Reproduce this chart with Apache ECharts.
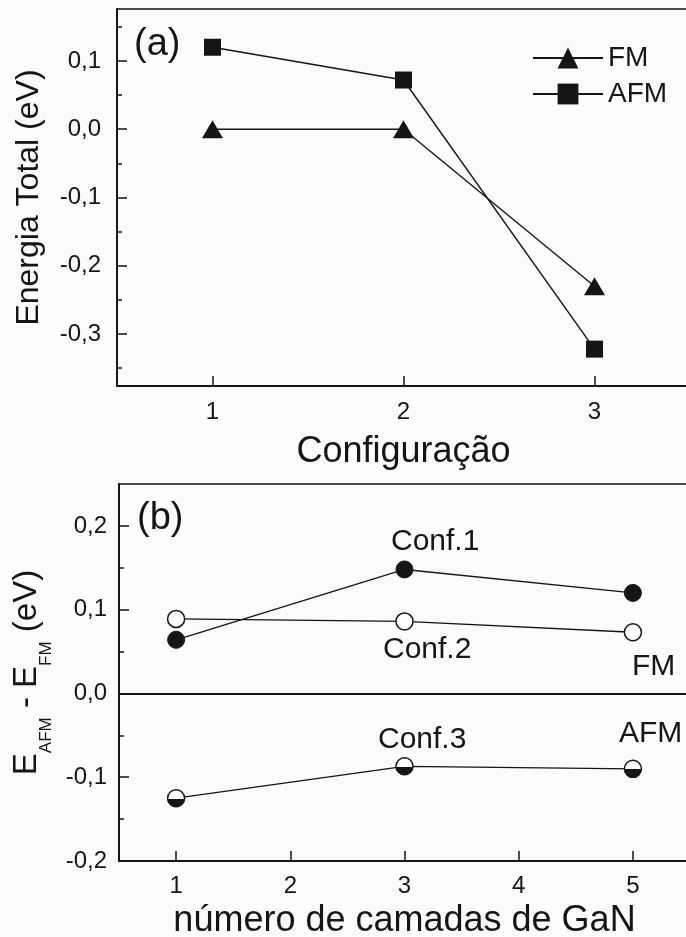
<!DOCTYPE html>
<html>
<head>
<meta charset="utf-8">
<script src="https://cdn.jsdelivr.net/npm/echarts@6/dist/echarts.min.js"></script>
<style>
  html, body { margin: 0; padding: 0; background: #fbfbfb; }
  #chart { width: 686px; height: 937px; }
</style>
</head>
<body>
<div id="chart"></div>
<script>
// (a) total energy for each configuration
const configs = [1, 2, 3];
const energyFM = [0.0, 0.0, -0.23];
const energyAFM = [0.12, 0.072, -0.322];
const configTicks = [1, 2, 3];
const energyTicks = [-0.3, -0.2, -0.1, 0.0, 0.1];
const energyMinorTicks = [-0.35, -0.25, -0.15, -0.05, 0.05, 0.15];

// (b) E_AFM - E_FM against the number of GaN layers
const layers = [1, 3, 5];
const diffConf1 = [0.064, 0.148, 0.120];
const diffConf2 = [0.089, 0.086, 0.073];
const diffConf3 = [-0.125, -0.087, -0.090];
const layerTicks = [1, 2, 3, 4, 5];
const diffTicks = [-0.2, -0.1, 0.0, 0.1, 0.2];
const diffMinorTicks = [-0.15, -0.05, 0.05, 0.15];

const FONT = '"Liberation Sans", Arial, Helvetica, sans-serif';
const INK = '#151515';

const pairs = (xs, ys) => xs.map((x, i) => [x, ys[i]]);
const comma = v => v.toFixed(1).replace('.', ',');

function valueX(grid, min, max, ticks) {
  return {
    type: 'value', gridIndex: grid, min: min, max: max,
    axisLine: { show: true, onZero: false, lineStyle: { color: INK, width: 2 } },
    axisTick: { show: true, inside: true, length: 10, customValues: ticks,
                lineStyle: { color: INK, width: 1.5 } },
    axisLabel: { customValues: ticks, formatter: v => String(v), margin: 14,
                 fontFamily: FONT, fontSize: 24, color: INK },
    splitLine: { show: false }
  };
}

function valueY(grid, min, max, ticks, margin) {
  return {
    type: 'value', gridIndex: grid, position: 'left', min: min, max: max,
    axisLine: { show: true, onZero: false, lineStyle: { color: INK, width: 2 } },
    axisTick: { show: true, inside: true, length: 10, customValues: ticks,
                lineStyle: { color: INK, width: 1.5 } },
    axisLabel: { customValues: ticks, formatter: comma, margin: margin,
                 fontFamily: FONT, fontSize: 24, color: INK },
    splitLine: { show: false }
  };
}

function minorY(grid, min, max, ticks) {
  return {
    type: 'value', gridIndex: grid, position: 'left', offset: 0, min: min, max: max,
    axisLine: { show: false, onZero: false },
    axisTick: { show: true, inside: true, length: 5, customValues: ticks,
                lineStyle: { color: INK, width: 1.5 } },
    axisLabel: { show: false },
    splitLine: { show: false }
  };
}

const yA = valueY(0, -0.376, 0.176, energyTicks, 16);
yA.name = 'Energia Total (eV)';
yA.nameLocation = 'middle';
yA.nameGap = 72;
yA.nameTextStyle = { fontFamily: FONT, fontSize: 32, color: INK };

const yB = valueY(1, -0.2, 0.25, diffTicks, 12);
yB.name = '{e|E}{s|AFM}{e| - E}{s|FM}{e| (eV)}';
yB.nameLocation = 'middle';
yB.nameGap = 57;
yB.nameTextStyle = {
  color: INK,
  rich: {
    e: { fontFamily: FONT, fontSize: 33, lineHeight: 40, color: INK },
    s: { fontFamily: FONT, fontSize: 17, lineHeight: 17, padding: [38, 0, 0, 0], color: INK }
  }
};

const xA = valueX(0, 0.5, 3.5, configTicks);
xA.axisLabel.margin = 14;
xA.name = 'Configuração';
xA.nameLocation = 'middle';
xA.nameGap = 48;
xA.nameTextStyle = { fontFamily: FONT, fontSize: 36, color: INK };

const xB = valueX(1, 0.5, 5.5, layerTicks);
xB.axisLabel.margin = 13;
xB.name = 'número de camadas de GaN';
xB.nameLocation = 'middle';
xB.nameGap = 42;
xB.nameTextStyle = { fontFamily: FONT, fontSize: 36, color: INK };

const lineStyle = { color: INK, width: 1.4 };
const halfFill = new echarts.graphic.LinearGradient(0, 0, 0, 1, [
  { offset: 0, color: '#ffffff' }, { offset: 0.52, color: '#ffffff' },
  { offset: 0.52, color: INK }, { offset: 1, color: INK }
]);

const option = {
  backgroundColor: '#fbfbfb',
  animation: false,
  color: [INK, INK],
  grid: [
    { left: 117, right: -4, top: 9, bottom: 551, show: true, outerBoundsMode: 'none',
      containLabel: false, borderColor: INK, borderWidth: 1.5, backgroundColor: 'transparent' },
    { left: 119, right: -4, top: 484, bottom: 76, show: true, outerBoundsMode: 'none',
      containLabel: false, borderColor: INK, borderWidth: 1.5, backgroundColor: 'transparent' }
  ],
  xAxis: [xA, xB],
  yAxis: [
    yA,
    minorY(0, -0.376, 0.176, energyMinorTicks),
    yB,
    minorY(1, -0.2, 0.25, diffMinorTicks)
  ],
  legend: {
    orient: 'vertical', left: 527, top: 39,
    itemWidth: 70, itemHeight: 26, itemGap: 8,
    textStyle: { fontFamily: FONT, fontSize: 28, color: INK },
    data: ['FM', 'AFM']
  },
  series: [
    { name: 'FM', type: 'line', xAxisIndex: 0, yAxisIndex: 0,
      data: pairs(configs, energyFM),
      symbol: 'triangle', symbolSize: [21, 18],
      itemStyle: { color: INK }, lineStyle: lineStyle, z: 3 },
    { name: 'AFM', type: 'line', xAxisIndex: 0, yAxisIndex: 0,
      data: pairs(configs, energyAFM),
      symbol: 'rect', symbolSize: 17,
      itemStyle: { color: INK }, lineStyle: lineStyle, z: 3 },
    { name: 'Conf.1', type: 'line', xAxisIndex: 1, yAxisIndex: 2,
      data: pairs(layers, diffConf1),
      symbol: 'circle', symbolSize: 17,
      itemStyle: { color: INK, borderColor: INK, borderWidth: 1 }, lineStyle: lineStyle, z: 3,
      markLine: {
        silent: true, symbol: 'none', label: { show: false },
        lineStyle: { color: INK, width: 1.8, type: 'solid' },
        data: [{ yAxis: 0 }]
      } },
    { name: 'Conf.2', type: 'line', xAxisIndex: 1, yAxisIndex: 2,
      data: pairs(layers, diffConf2),
      symbol: 'circle', symbolSize: 17,
      itemStyle: { color: '#ffffff', borderColor: INK, borderWidth: 1.5 }, lineStyle: lineStyle, z: 3 },
    { name: 'Conf.3', type: 'line', xAxisIndex: 1, yAxisIndex: 2,
      data: pairs(layers, diffConf3),
      symbol: 'circle', symbolSize: 17,
      itemStyle: { color: halfFill, borderColor: INK, borderWidth: 1.5 }, lineStyle: lineStyle, z: 3 }
  ],
  graphic: [
    { type: 'text', left: 134, top: 26, style: { text: '(a)', font: '38px ' + FONT, fill: INK } },
    { type: 'text', left: 137, top: 500, style: { text: '(b)', font: '38px ' + FONT, fill: INK } },
    { type: 'text', left: 391, top: 527, style: { text: 'Conf.1', font: '30px ' + FONT, fill: INK } },
    { type: 'text', left: 383, top: 635, style: { text: 'Conf.2', font: '30px ' + FONT, fill: INK } },
    { type: 'text', left: 378, top: 725, style: { text: 'Conf.3', font: '30px ' + FONT, fill: INK } },
    { type: 'text', left: 632, top: 652, style: { text: 'FM', font: '30px ' + FONT, fill: INK } },
    { type: 'text', left: 619, top: 719, style: { text: 'AFM', font: '30px ' + FONT, fill: INK } }
  ]
};

const chart = echarts.init(document.getElementById('chart'), null, { renderer: 'canvas' });
chart.setOption(option);
</script>
</body>
</html>
